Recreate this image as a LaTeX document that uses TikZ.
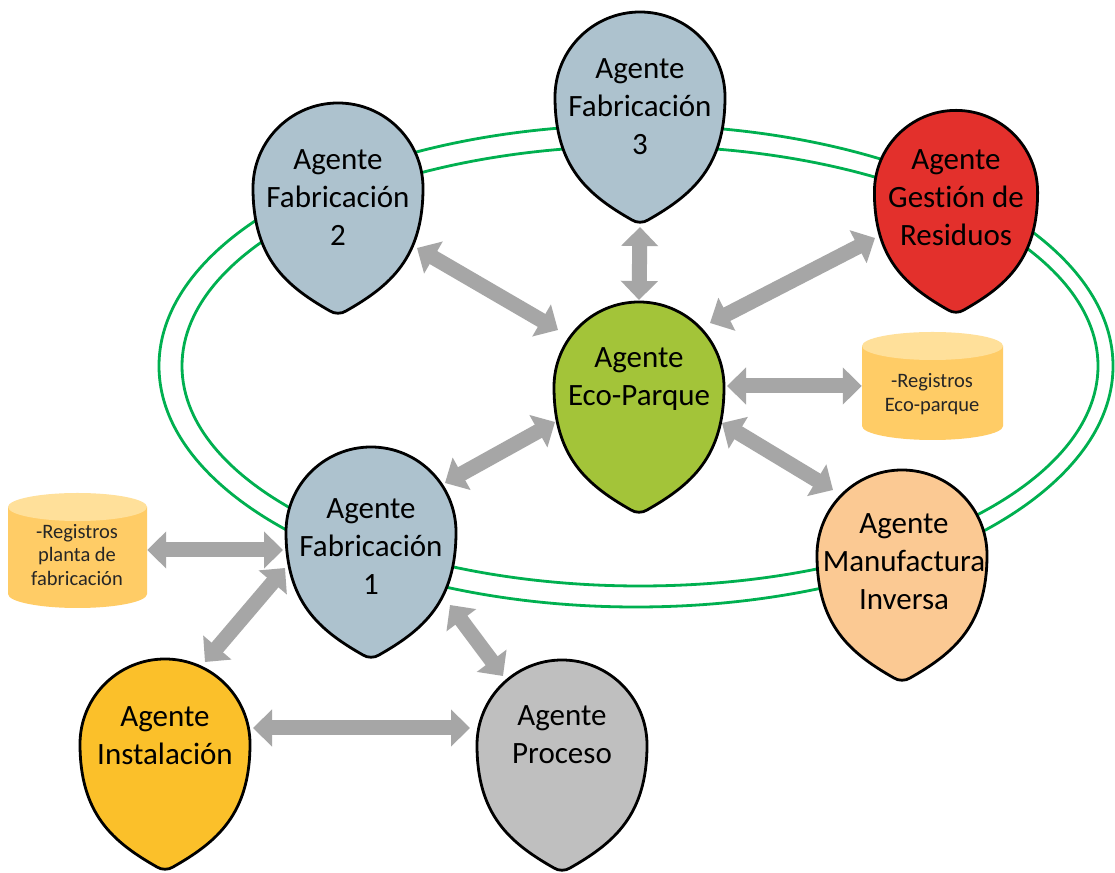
\documentclass[tikz,border=0pt]{standalone}
\usepackage{fontspec}
\setmainfont{Carlito}[Ligatures=NoCommon]
\usetikzlibrary{arrows.meta,calc}
\definecolor{fabblue}{HTML}{ADC2CE}
\definecolor{ecogreen}{HTML}{A3C439}
\definecolor{resred}{HTML}{E3302C}
\definecolor{manufc}{HTML}{FBC993}
\definecolor{instc}{HTML}{FBC02A}
\definecolor{procc}{HTML}{BFBFBF}
\definecolor{cylbody}{HTML}{FFCC66}
\definecolor{cyltop}{HTML}{FFE09A}
\definecolor{ringgreen}{HTML}{00B050}
\definecolor{arrowgray}{HTML}{A6A6A6}
\newcommand\dropshape[3]{%
  \draw[dropline, fill=#2, shift={#1}, scale=#3]
    (8,-123) .. controls (52,-98) and (85,-70) .. (85,0)
    arc[start angle=0, end angle=180, radius=85]
    .. controls (-85,-70) and (-52,-98) .. (-8,-123)
    .. controls (-3.5,-126) and (3.5,-126) .. cycle;}
\newcommand\dbshape[4]{% cx, Ytop, Ybot, rx
  \fill[cylbody] (#1-#4,#2) -- (#1-#4,#3)
    arc[start angle=180, end angle=360, x radius=#4, y radius=14]
    -- (#1+#4,#2) -- cycle;
  \fill[cyltop] (#1,#2) ellipse[x radius=#4, y radius=14];}
\tikzset{
  x=1pt, y=1pt,
  dropline/.style={draw=black, line width=2.8pt, line join=round},
  dropcenter/.style={circle, minimum size=170pt, inner sep=0pt},
  droptext/.style={align=center, font=\fontsize{31}{38}\selectfont, text=black},
  dbtext/.style={align=center, font=\fontsize{20.5}{23.5}\selectfont, text=black!85},
  ring/.style={draw=ringgreen, line width=2.8pt},
  biarrow/.style={draw=arrowgray, line width=15pt,
    {Triangle[length=19pt,width=36pt]}-{Triangle[length=19pt,width=36pt]}},
}
\begin{document}
\begin{tikzpicture}
\useasboundingbox (0,0) rectangle (1115,872);
\fill[white] (0,0) rectangle (1115,872);
% green rings
\draw[ring] (636,506) ellipse[x radius=477, y radius=241];
\draw[ring] (640,506) ellipse[x radius=458, y radius=220];
% drops
\dropshape{(640,775)}{fabblue}{1}
\dropshape{(338,684)}{fabblue}{1}
\dropshape{(956,680)}{resred}{0.96}
\dropshape{(639,485)}{ecogreen}{1}
\dropshape{(371,340)}{fabblue}{1}
\dropshape{(902,317)}{manufc}{1}
\dropshape{(165,128)}{instc}{1}
\dropshape{(562,127)}{procc}{1}
% databases
\dbshape{932.5}{526}{446}{70.5}
\dbshape{77.5}{365}{278}{69.5}
% named centres
\node[dropcenter] (fab3) at (640,775) {};
\node[dropcenter] (fab2) at (338,684) {};
\node[dropcenter] (ges) at (956,680) {};
\node[dropcenter] (eco) at (639,485) {};
\node[dropcenter] (fab1) at (371,340) {};
\node[dropcenter] (manuf) at (902,317) {};
\node[dropcenter] (inst) at (165,128) {};
\node[dropcenter] (proc) at (562,127) {};
\node[inner sep=0pt, minimum width=141pt, minimum height=108pt] (ecodb) at (932.5,486) {};
\node[inner sep=0pt, minimum width=139pt, minimum height=115pt] (leftdb) at (77.5,322) {};
% texts
\node[droptext] (fab3t) at (640,765) {Agente\\Fabricación\\3};
\node[droptext] (fab2t) at (338,674) {Agente\\Fabricación\\2};
\node[droptext] (gest) at (956,674) {Agente\\Gestión de\\Residuos};
\node[droptext] (ecot) at (639,493) {Agente\\Eco-Parque};
\node[droptext] (fab1t) at (371,325) {Agente\\Fabricación\\1};
\node[droptext] (manuft) at (904,310) {Agente\\Manufactura\\Inversa};
\node[droptext] (instt) at (165,136) {Agente\\Instalación};
\node[droptext] (proct) at (562,137) {Agente\\Proceso};
\node[dbtext] (ecodbt) at (932,478) {-Registros\\Eco-parque};
\node[dbtext] (leftdbt) at (77,317) {-Registros\\planta de\\fabricación};
% arrows
\draw[biarrow] ($(fab2)+(79,-60)$) -- ($(eco)+(-81,57)$);
\draw[biarrow] ($(fab3)+(0,-130)$) -- ($(eco)+(0,87)$);
\draw[biarrow] ($(ges)+(-81,-46)$) -- ($(eco)+(71,64)$);
\draw[biarrow] ($(eco)+(88,1)$) -- (ecodb.west);
\draw[biarrow] ($(eco)+(83,-36)$) -- ($(manuf)+(-69,65)$);
\draw[biarrow] ($(fab1)+(74,49)$) -- ($(eco)+(-84,-35)$);
\draw[biarrow] (leftdb.east) -- ($(fab1)+(-88,-18)$);
\draw[biarrow] ($(fab1)+(-86,-36)$) -- ($(inst)+(40,82)$);
\draw[biarrow] ($(fab1)+(79,-73)$) -- ($(proc)+(-59,69)$);
\draw[biarrow] ($(inst)+(88,16)$) -- ($(proc)+(-92,17)$);
\end{tikzpicture}
\end{document}
